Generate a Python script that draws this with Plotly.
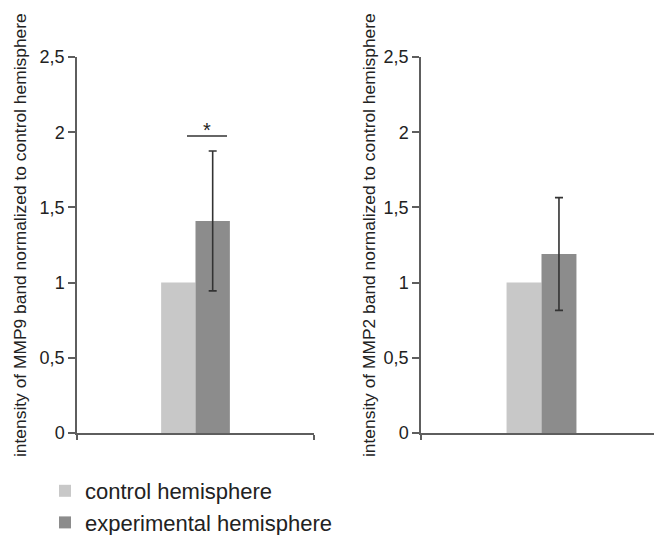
import plotly.graph_objects as go

panels = ["MMP9", "MMP2"]
y_titles = ["intensity of MMP9 band normalized to control hemisphere",
            "intensity of MMP2 band normalized to control hemisphere"]
series_names = ["control hemisphere", "experimental hemisphere"]
control = [1.0, 1.0]
experimental = [1.41, 1.19]
experimental_err = [0.465, 0.375]
control_color = "#c8c8c8"
exp_color = "#8c8c8c"
sig_level = 1.975
tick_vals = [0, 0.5, 1, 1.5, 2, 2.5]
tick_text = ["0", "0,5", "1", "1,5", "2", "2,5"]

# the page body has an 8px margin, so the figure is 8px smaller than the window
OFF = 8
W, H = 662 - OFF, 535 - OFF
TOP, BOTTOM = 57 - OFF, 433 - OFF   # figure rows of y=2.5 and y=0
PH = H - TOP                        # paper height (margin b = 0)
ydom0 = (H - BOTTOM) / PH


def px(col):
    """window column -> paper fraction"""
    return (col - OFF) / W


def py(row):
    """window row -> paper fraction"""
    return (H - (row - OFF)) / PH


fig = go.Figure()
axes = [("x", "y"), ("x2", "y2")]
for i, (xa, ya) in enumerate(axes):
    fig.add_trace(go.Bar(x=[panels[i]], y=[control[i]], name=series_names[0],
                         marker=dict(color=control_color, line=dict(width=0)),
                         xaxis=xa, yaxis=ya, showlegend=(i == 0),
                         offsetgroup="c"))
    fig.add_trace(go.Bar(x=[panels[i]], y=[experimental[i]], name=series_names[1],
                         marker=dict(color=exp_color, line=dict(width=0)),
                         error_y=dict(type="data", array=[experimental_err[i]],
                                      color="#333333", thickness=1.6, width=4),
                         xaxis=xa, yaxis=ya, showlegend=(i == 0),
                         offsetgroup="e"))

font = "Liberation Sans, Arial, sans-serif"
axis_color = "#5e5e5e"
common_x = dict(showgrid=False, showline=True, linecolor=axis_color, linewidth=1.5,
                showticklabels=False, ticks="outside", tickson="boundaries",
                ticklen=5, tickcolor=axis_color, tickwidth=1.5, zeroline=False,
                automargin=False)
common_y = dict(range=[0, 2.5], showgrid=False, showline=True, linecolor=axis_color,
                linewidth=1.5, ticks="outside", ticklen=7, tickcolor=axis_color,
                tickwidth=1.5, tickvals=tick_vals, ticktext=tick_text,
                tickfont=dict(size=18, color="#222222", family=font), zeroline=False,
                automargin=False, domain=[ydom0, 1])

fig.update_layout(
    width=W, height=H,
    margin=dict(l=0, r=0, t=TOP, b=0, autoexpand=False),
    paper_bgcolor="white", plot_bgcolor="white",
    barmode="group", bargap=0.71, bargroupgap=0,
    font=dict(family=font, color="#222222"),
    xaxis=dict(domain=[px(77), px(314)], anchor="y", **common_x),
    yaxis=dict(anchor="x", **common_y),
    xaxis2=dict(domain=[px(421), 1.0], anchor="y2", **common_x),
    yaxis2=dict(anchor="x2", **common_y),
    legend=dict(x=px(45), xanchor="left", y=py(470), yanchor="top",
                font=dict(size=22, color="#222222", family=font),
                traceorder="normal", tracegroupgap=0,
                bgcolor="rgba(0,0,0,0)"),
    showlegend=True,
)

# y-axis titles as rotated annotations
for i, xc in enumerate([20, 369]):
    fig.add_annotation(text=y_titles[i], xref="paper", yref="paper",
                       x=px(xc), y=py(235), textangle=-90, showarrow=False,
                       font=dict(size=17.4, color="#222222", family=font),
                       xanchor="center", yanchor="middle")

# significance marker on MMP9 panel
fig.add_shape(type="line", xref="x", yref="y", x0=-0.036, x1=0.133,
              y0=sig_level, y1=sig_level, line=dict(color="#333333", width=1.5))
fig.add_annotation(text="*", xref="x", yref="y", x=0.048, y=sig_level,
                   yanchor="bottom", showarrow=False, yshift=-7,
                   font=dict(size=20, color="#222222", family=font))

fig.write_html("out.html")
